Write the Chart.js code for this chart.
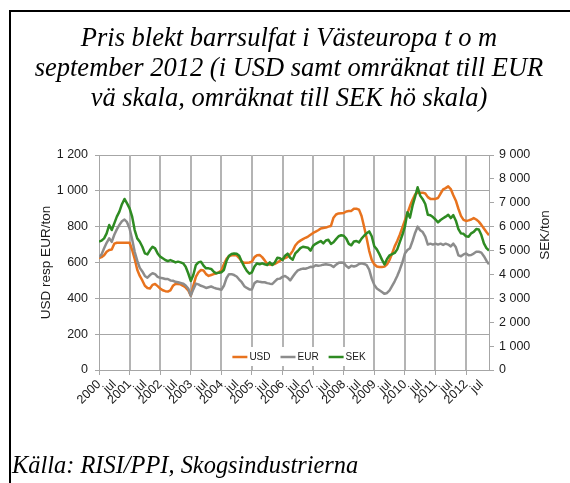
<!DOCTYPE html>
<html>
<head>
<meta charset="utf-8">
<script src="https://cdn.jsdelivr.net/npm/chart.js@4.4.0/dist/chart.umd.min.js"></script>
<style>
    html, body { margin: 0; padding: 0; background: #fff; }
    #wrap { position: relative; width: 570px; height: 483px; overflow: hidden; }
    #frame {
        position: absolute; left: 9px; top: 10px; width: 600px; height: 520px;
        border-left: 2px solid #000; border-top: 2px solid #000;
    }
    #title {
        position: absolute; left: 11px; width: 556px; top: 22px; text-align: center;
        font: italic 26.5px/30px "Liberation Serif", "Times New Roman", serif; color: #000;
    }
    #source {
        position: absolute; left: 12px; top: 450px;
        font: italic 24.4px/30px "Liberation Serif", "Times New Roman", serif; color: #000;
    }
    #price-chart { position: absolute; left: 0; top: 0; }
</style>
</head>
<body>
<div id="wrap">
    <div id="frame"></div>
    <canvas id="price-chart" width="570" height="483"></canvas>
    <div id="title">Pris blekt barrsulfat i Västeuropa t o m<br>september 2012 (i USD samt omräknat till EUR<br>vä skala, omräknat till SEK hö skala)</div>
    <div id="source">Källa: RISI/PPI, Skogsindustrierna</div>
</div>
<script>
// månadsvärden jan 2000 - okt 2012
const startYear = 2000;
const endYear = 2012;
const endMonth = 10;
const midYearLabel = "jul";

const usd = [
    625, 630, 640, 660, 670, 672, 705, 710, 710, 710, 710, 710,
    710, 670, 620, 560, 525, 500, 470, 458, 455, 475, 480, 468,
    455, 445, 440, 438, 445, 470, 480, 480, 478, 470, 460, 445,
    415, 470, 520, 545, 558, 555, 535, 525, 530, 535, 540, 545,
    555, 590, 620, 635, 640, 642, 640, 625, 605, 598, 598, 600,
    605, 630, 640, 642, 630, 612, 592, 588, 590, 592, 600, 610,
    620, 625, 632, 645, 665, 695, 712, 722, 730, 738, 745, 755,
    765, 772, 780, 790, 793, 795, 800, 804, 850, 868, 874, 875,
    876, 885, 887, 888, 900, 900, 895, 860, 800, 735, 665, 615,
    590, 578, 575, 575, 577, 590, 615, 650, 690, 720, 755, 795,
    835, 875, 915, 950, 980, 990, 990, 990, 985, 965, 955, 955,
    955, 960, 985, 1008, 1015, 1025, 1010, 975, 945, 900, 860, 838,
    832, 835, 840, 848, 840, 828, 810, 790, 770, 752
];

const eur = [
    630, 645, 680, 710, 735, 715, 755, 785, 810, 830, 840, 825,
    790, 730, 660, 610, 570, 550, 525, 515, 530, 540, 535, 520,
    515, 512, 508, 508, 500, 498, 492, 490, 486, 482, 472, 455,
    415, 450, 482, 478, 470, 465, 458, 462, 466, 460, 455, 452,
    448, 470, 512, 535, 535, 530, 522, 505, 490, 468, 458, 450,
    450, 485, 495, 492, 490, 490, 485, 482, 480, 495, 508, 510,
    520, 525, 515, 500, 520, 540, 556, 562, 566, 565, 570, 576,
    575, 585, 582, 584, 588, 590, 588, 585, 575, 588, 598, 600,
    598, 580, 570, 582, 578, 582, 592, 595, 592, 585, 560, 510,
    475, 455, 445, 435, 425, 430, 445, 470, 495, 525, 560, 600,
    650, 670, 680, 720, 765, 800, 780, 770, 745, 700, 705, 700,
    705, 700, 705, 698, 705, 700, 690, 705, 685, 640, 635, 645,
    650, 640, 642, 650, 660, 660, 655, 635, 610, 590
];

const sek = [
    5370, 5415, 5510, 5720, 6070, 5860, 6140, 6420, 6630, 6940, 7160, 6975,
    6765, 6420, 5860, 5510, 5370, 5160, 4880, 4840, 5020, 5160, 5090, 4880,
    4745, 4675, 4605, 4560, 4600, 4560, 4505, 4535, 4505, 4465, 4325, 4050,
    3730, 3975, 4395, 4505, 4535, 4370, 4255, 4255, 4230, 4115, 4045, 4075,
    4090, 4185, 4560, 4785, 4855, 4880, 4870, 4785, 4535, 4330, 4150, 4035,
    4090, 4330, 4465, 4425, 4465, 4425, 4395, 4505, 4395, 4505, 4700, 4675,
    4605, 4785, 4870, 4700, 4620, 4880, 4980, 5100, 5160, 5140, 5120, 5000,
    5200, 5280, 5340, 5400, 5300, 5420, 5450, 5280, 5350, 5480, 5600, 5640,
    5620, 5500, 5280, 5220, 5380, 5400, 5340, 5500, 5620, 5720, 5800, 5600,
    5180, 5050, 4850, 4620, 4420, 4650, 4800, 4850, 4900, 5050, 5350, 5650,
    6000, 6600, 6380, 6880, 7250, 7650, 7300, 7150, 6950, 6500, 6480, 6400,
    6300, 6180, 6280, 6350, 6420, 6500, 6360, 6480, 6250, 5900, 5720, 5700,
    5600, 5580, 5720, 5780, 5900, 5880, 5650, 5300, 5100, 5000
];

const categories = [];
for (let y = startYear; y <= endYear; y++) {
    for (let m = 1; m <= 12; m++) {
        if (y === endYear && m > endMonth) break;
        categories.push(y + "-" + String(m).padStart(2, "0"));
    }
}

const gridColor = "#A6A6A6";
const yearLineColor = "#B4B4B4";
const textColor = "#1a1a1a";
const noColor = "rgba(0,0,0,0)";
const sans = '"Liberation Sans", Arial, sans-serif';

function spaced(v) {
    return String(v).replace(/\B(?=(\d{3})+(?!\d))/g, " ");
}

// x is the month number counted from jan 2000
function toPoints(values) {
    return values.map((v, i) => ({ x: i, y: v }));
}

function monthLabel(value) {
    const label = categories[value];
    if (label === undefined) return "";
    const month = label.slice(5);
    if (month === "01") return label.slice(0, 4);
    if (month === "07") return midYearLabel;
    return "";
}

function isYearStart(value) {
    return Math.round(value) % 12 === 0;
}

// year grid lines under the data, legend inside the plot and the right axis title
const plotExtras = {
    id: "plotExtras",
    beforeDatasetsDraw(chart) {
        const ctx = chart.ctx;
        const area = chart.chartArea;
        const xs = chart.scales.x;
        ctx.save();
        ctx.strokeStyle = yearLineColor;
        ctx.lineWidth = 2;
        xs.ticks.forEach(t => {
            if (!isYearStart(t.value) || t.value === 0) return;
            const px = Math.round(xs.getPixelForValue(t.value));
            ctx.beginPath();
            ctx.moveTo(px, area.top);
            ctx.lineTo(px, area.bottom);
            ctx.stroke();
        });
        ctx.restore();
    },
    afterDraw(chart) {
        const ctx = chart.ctx;
        const area = chart.chartArea;
        ctx.save();

        ctx.font = "10px " + sans;
        const items = chart.data.datasets.map(ds => ({ text: ds.label, color: ds.borderColor }));
        const lineLen = 15, gap = 2, spacing = 10;
        let total = 0;
        items.forEach((it, i) => {
            it.w = ctx.measureText(it.text).width;
            total += lineLen + gap + it.w + (i < items.length - 1 ? spacing : 0);
        });
        let x = (area.left + area.right) / 2 + 5 - total / 2;
        const y = area.bottom - 13;
        ctx.fillStyle = "#fff";
        ctx.fillRect(x - 4, y - 10, total + 8, 19);
        ctx.textBaseline = "middle";
        items.forEach(it => {
            ctx.strokeStyle = it.color;
            ctx.lineWidth = 2.5;
            ctx.beginPath();
            ctx.moveTo(x, y);
            ctx.lineTo(x + lineLen, y);
            ctx.stroke();
            x += lineLen + gap;
            ctx.fillStyle = textColor;
            ctx.fillText(it.text, x, y + 0.5);
            x += it.w + spacing;
        });

        ctx.translate(545, 235);
        ctx.rotate(-Math.PI / 2);
        ctx.font = "13.5px " + sans;
        ctx.textAlign = "center";
        ctx.textBaseline = "middle";
        ctx.fillStyle = textColor;
        ctx.fillText("SEK/ton", 0, 0);
        ctx.restore();
    }
};

const priceChart = new Chart(document.getElementById("price-chart").getContext("2d"), {
    type: "line",
    data: {
        datasets: [
            {
                label: "USD",
                data: toPoints(usd),
                yAxisID: "y",
                borderColor: "#E8731E",
                order: 2
            },
            {
                label: "EUR",
                data: toPoints(eur),
                yAxisID: "y",
                borderColor: "#8C8C8C",
                order: 1
            },
            {
                label: "SEK",
                data: toPoints(sek),
                yAxisID: "ySek",
                borderColor: "#2E8B22",
                order: 0
            }
        ]
    },
    options: {
        responsive: false,
        animation: false,
        layout: {
            padding: { top: 155, left: 34, right: 14, bottom: 0 }
        },
        elements: {
            point: { radius: 0 },
            line: { borderWidth: 2.5, tension: 0, borderJoinStyle: "round" }
        },
        plugins: {
            legend: { display: false },
            tooltip: { enabled: false }
        },
        scales: {
            x: {
                type: "linear",
                min: 0,
                max: categories.length - 1,
                bounds: "data",
                afterFit: scale => { scale.height = 113; },
                grid: {
                    drawOnChartArea: false,
                    color: ctx => (ctx.tick && isYearStart(ctx.tick.value)) ? gridColor : noColor,
                    tickLength: 5
                },
                border: { color: gridColor },
                ticks: {
                    stepSize: 6,
                    includeBounds: false,
                    autoSkip: false,
                    minRotation: 45,
                    maxRotation: 45,
                    padding: 2,
                    color: textColor,
                    font: { family: sans, size: 12.5 },
                    callback: monthLabel
                }
            },
            y: {
                position: "left",
                min: 0,
                max: 1200,
                afterFit: scale => { scale.width = 65; },
                grid: { color: gridColor, tickLength: 4 },
                border: { color: gridColor },
                ticks: {
                    stepSize: 200,
                    padding: 7,
                    color: textColor,
                    font: { family: sans, size: 12.5 },
                    callback: v => spaced(v)
                },
                title: {
                    display: true,
                    text: "USD resp EUR/ton",
                    color: textColor,
                    padding: { top: 4, bottom: 0 },
                    font: { family: sans, size: 13.5 }
                }
            },
            ySek: {
                position: "right",
                min: 0,
                max: 9000,
                afterFit: scale => { scale.width = 67; },
                grid: { drawOnChartArea: false, color: gridColor, tickLength: 5 },
                border: { color: gridColor },
                ticks: {
                    stepSize: 1000,
                    padding: 5,
                    color: textColor,
                    font: { family: sans, size: 12.5 },
                    callback: v => spaced(v)
                }
            }
        }
    },
    plugins: [plotExtras]
});
</script>
</body>
</html>
